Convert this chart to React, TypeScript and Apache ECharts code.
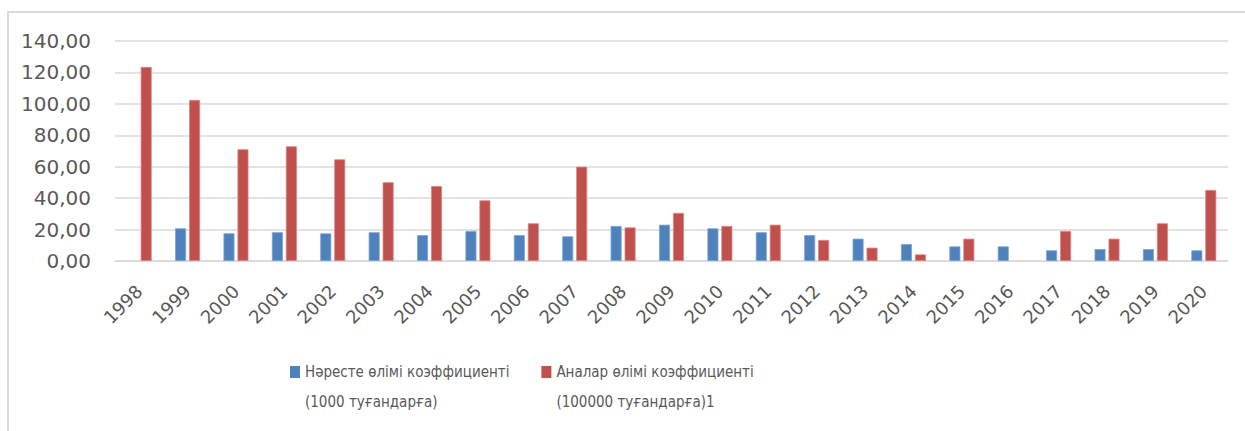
import React, { useEffect, useRef } from "react";
import * as echarts from "echarts";

const years = ["1998","1999","2000","2001","2002","2003","2004","2005","2006","2007","2008","2009","2010","2011","2012","2013","2014","2015","2016","2017","2018","2019","2020"];
const infantNames = "Нәресте өлімі коэффициенті\n(1000 туғандарға)";
const maternalNames = "Аналар өлімі коэффициенті\n(100000 туғандарға)1";
const infant = [null, 20.8, 17.6, 18.3, 17.6, 18.3, 16.5, 19.1, 16.5, 15.7, 22.3, 23.1, 20.8, 18.3, 16.5, 14.2, 10.8, 9.3, 9.3, 6.8, 7.6, 7.6, 6.8];
const maternal = [123.5, 102.5, 71.1, 73.0, 64.7, 50.1, 47.7, 38.6, 24.0, 60.0, 21.4, 30.6, 22.3, 23.1, 13.4, 8.5, 4.2, 14.2, null, 19.1, 14.2, 24.0, 45.2];
const yTicks = { min: 0, max: 140, interval: 20 };

const legendIcon = "path://M0,0L10,0L10,12L0,12Z M0,42L0,42";

export default function App() {
  const ref = useRef<HTMLDivElement>(null);
  useEffect(() => {
    if (!ref.current) return;
    const chart = echarts.init(ref.current, null, { renderer: "svg" });
    chart.setOption({
      animation: false,
      backgroundColor: "#ffffff",
      graphic: [
        {
          type: "rect",
          shape: { x: 8, y: 12, width: 1260, height: 440 },
          style: { fill: "none", stroke: "#d9d9d9", lineWidth: 2 },
          silent: true,
        },
      ],
      grid: { left: 115, right: 17, top: 41, bottom: 170, containLabel: false },
      legend: {
        left: 285,
        top: 352,
        itemWidth: 10,
        itemHeight: 42,
        itemGap: 32,
        icon: legendIcon,
        itemStyle: { borderWidth: 0 },
        textStyle: {
          fontFamily: "'DejaVu Sans Condensed', sans-serif",
          fontSize: 15,
          color: "#595959",
          lineHeight: 30,
        },
        data: [infantNames, maternalNames],
      },
      xAxis: {
        type: "category",
        data: years,
        axisLine: { lineStyle: { color: "#d9d9d9", width: 1.5 } },
        axisTick: { show: false },
        axisLabel: {
          rotate: 45,
          interval: 0,
          margin: 27,
          padding: [24, 0, 0, 0],
          fontSize: 18,
          color: "#595959",
          fontFamily: "'DejaVu Sans', sans-serif",
        },
      },
      yAxis: {
        type: "value",
        min: yTicks.min,
        max: yTicks.max,
        interval: yTicks.interval,
        axisLine: { show: false },
        axisTick: { show: false },
        splitLine: { lineStyle: { color: "#d9d9d9", width: 1.5 } },
        axisLabel: {
          margin: 24,
          fontSize: 20,
          color: "#595959",
          fontFamily: "'DejaVu Sans', sans-serif",
          formatter: (v: number) => v.toFixed(2).replace(".", ","),
        },
      },
      series: [
        {
          name: infantNames,
          type: "bar",
          data: infant,
          barWidth: 11,
          barGap: "27%",
          itemStyle: { color: "#4f81bd", borderColor: "#7ea3d3", borderWidth: 0.8 },
        },
        {
          name: maternalNames,
          type: "bar",
          data: maternal,
          barWidth: 11,
          itemStyle: { color: "#c0504d", borderColor: "#d88583", borderWidth: 0.8 },
        },
      ],
    });
    return () => chart.dispose();
  }, []);
  return <div ref={ref} style={{ position: "absolute", left: 0, top: 0, width: 1245, height: 431 }} />;
}
